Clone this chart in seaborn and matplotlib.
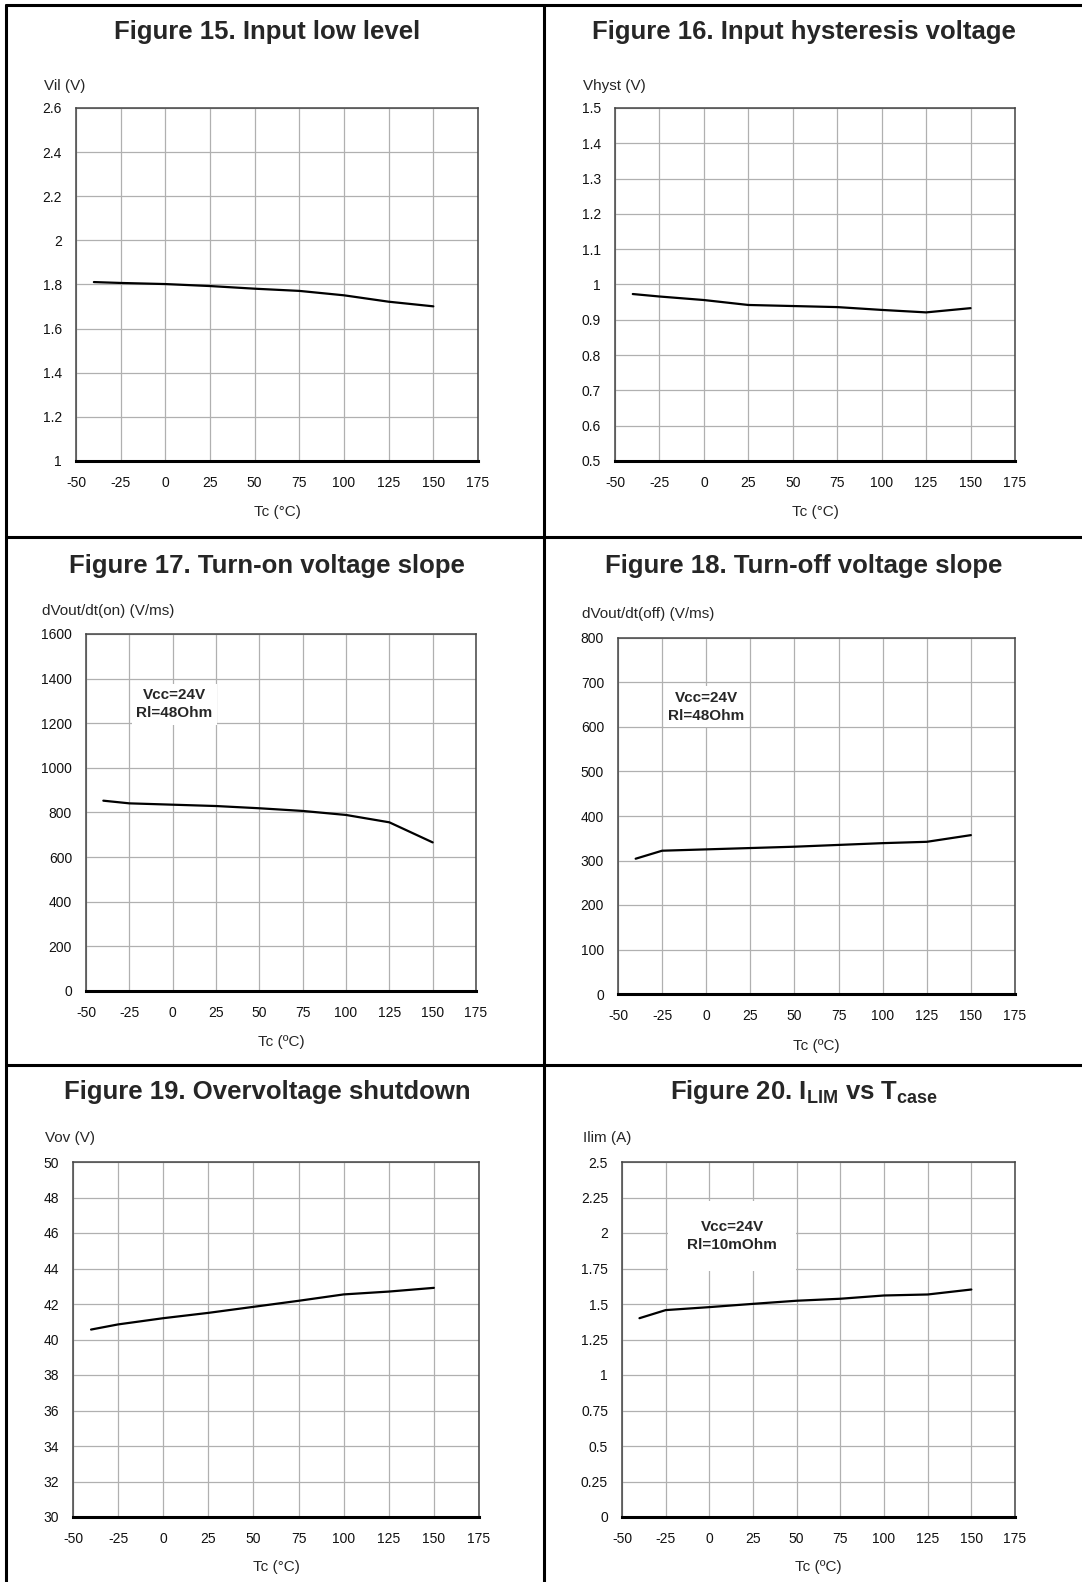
import pandas as pd
import matplotlib
matplotlib.use("Agg")
import matplotlib.pyplot as plt
import seaborn as sns
from matplotlib.lines import Line2D
from matplotlib.ticker import FuncFormatter

sns.set_style("white")
plt.rcParams['font.family'] = ['Liberation Sans', 'DejaVu Sans']
plt.rcParams['mathtext.fontset'] = 'custom'
plt.rcParams['mathtext.bf'] = 'Liberation Sans:bold'
plt.rcParams['mathtext.rm'] = 'Liberation Sans'
plt.rcParams['axes.unicode_minus'] = False

# data
temps = [-40, -25, 0, 25, 50, 75, 100, 125, 150]
vil = [1.811, 1.807, 1.802, 1.793, 1.781, 1.771, 1.751, 1.722, 1.701]
vhyst = [0.973, 0.966, 0.956, 0.942, 0.939, 0.936, 0.928, 0.921, 0.933]
dvdt_on = [853, 841, 835, 829, 819, 807, 789, 756, 666]
dvdt_off = [304, 322, 325, 328, 331, 335, 339, 342, 357]
vov = [40.56, 40.85, 41.2, 41.5, 41.84, 42.18, 42.54, 42.7, 42.91]
ilim = [1.40, 1.457, 1.478, 1.501, 1.523, 1.537, 1.56, 1.567, 1.602]

x_ticks = [-50, -25, 0, 25, 50, 75, 100, 125, 150, 175]

W, H = 1082, 1582
fig = plt.figure(figsize=(W / 100, H / 100), dpi=100)


def fx(x):
    return x / W


def fy(y):
    return 1 - y / H


panels = [
    dict(box=(76, 108, 478, 461), y=vil, ylim=(1, 2.6), step=0.2,
         title="Figure 15. Input low level", tpos=(267, 39),
         ylab="Vil (V)", ypos=(44, 90), xlab="Tc (°C)", xb=516, note=None),
    dict(box=(615, 108, 1015, 461), y=vhyst, ylim=(0.5, 1.5), step=0.1,
         title="Figure 16. Input hysteresis voltage", tpos=(804, 39),
         ylab="Vhyst (V)", ypos=(583, 90), xlab="Tc (°C)", xb=516, note=None),
    dict(box=(86, 634, 476, 991), y=dvdt_on, ylim=(0, 1600), step=200,
         title="Figure 17. Turn-on voltage slope", tpos=(267, 573),
         ylab="dVout/dt(on) (V/ms)", ypos=(42, 615), xlab="Tc (ºC)", xb=1046,
         note=("Vcc=24V\nRl=48Ohm", 1, 1286, 0.3)),
    dict(box=(618, 638, 1015, 994), y=dvdt_off, ylim=(0, 800), step=100,
         title="Figure 18. Turn-off voltage slope", tpos=(804, 573),
         ylab="dVout/dt(off) (V/ms)", ypos=(582, 618), xlab="Tc (ºC)", xb=1050,
         note=("Vcc=24V\nRl=48Ohm", 0, 645, 0.3)),
    dict(box=(73, 1162, 479, 1517), y=vov, ylim=(30, 50), step=2,
         title="Figure 19. Overvoltage shutdown", tpos=(267, 1099),
         ylab="Vov (V)", ypos=(45, 1142), xlab="Tc (°C)", xb=1571, note=None),
    dict(box=(622, 1162, 1015, 1517), y=ilim, ylim=(0, 2.5), step=0.25,
         title=r"Figure 20. $\mathbf{I_{LIM}}$ vs $\mathbf{T_{case}}$", tpos=(804, 1099),
         ylab="Ilim (A)", ypos=(583, 1142), xlab="Tc (ºC)", xb=1571,
         note=("Vcc=24V\nRl=10mOhm", 13, 1.979, 1.25)),
]

for p in panels:
    l, t, r, b = p['box']
    ax = fig.add_axes([fx(l), fy(b), fx(r - l), (b - t) / H])
    df = pd.DataFrame({'Tc': temps, 'val': p['y']})
    sns.lineplot(data=df, x='Tc', y='val', ax=ax, color='black', linewidth=1.6)
    ax.set_xlim(-50, 175)
    ax.set_ylim(*p['ylim'])
    ax.set_xticks(x_ticks)
    lo, hi = p['ylim']
    n = int(round((hi - lo) / p['step']))
    ax.set_yticks([lo + i * p['step'] for i in range(n + 1)])
    ax.yaxis.set_major_formatter(FuncFormatter(lambda v, pos: f"{round(v, 3):g}"))
    ax.set_xlabel("")
    ax.set_ylabel("")
    ax.grid(True, color='#b0b0b0', linewidth=0.9)
    ax.set_axisbelow(True)
    ax.tick_params(length=0, labelsize=10, colors='#111111')
    ax.tick_params(axis='x', pad=11)
    ax.tick_params(axis='y', pad=10)
    for s in ['left', 'top', 'right']:
        ax.spines[s].set_color('#444444')
        ax.spines[s].set_linewidth(1.1)
    ax.spines['bottom'].set_color('black')
    ax.spines['bottom'].set_linewidth(2.2)

    if p['note'] is not None:
        txt, nx, ny, pad = p['note']
        ax.text(nx, ny, txt, ha='center', va='center', fontsize=11,
                fontweight='bold', linespacing=1.35, zorder=3,
                bbox=dict(boxstyle=f'square,pad={pad}', fc='white', ec='none'))

    fig.text(fx(p['tpos'][0]), fy(p['tpos'][1]), p['title'], ha='center',
             va='baseline', fontsize=18.5, fontweight='bold')
    fig.text(fx(p['ypos'][0]), fy(p['ypos'][1]), p['ylab'], ha='left',
             va='baseline', fontsize=11)
    fig.text(fx((l + r) / 2), fy(p['xb']), p['xlab'], ha='center',
             va='baseline', fontsize=11)

# table borders
for xv in [6, 544]:
    fig.add_artist(Line2D([fx(xv), fx(xv)], [0, fy(5)], color='black', lw=2.2))
for yv in [5, 537, 1065]:
    fig.add_artist(Line2D([fx(6), 1], [fy(yv), fy(yv)], color='black', lw=2.2))

fig.savefig('out.png', dpi=100)
